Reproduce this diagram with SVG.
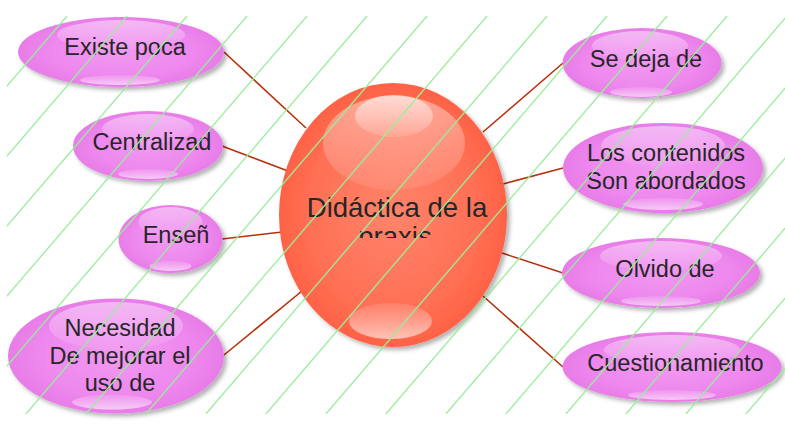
<svg xmlns="http://www.w3.org/2000/svg" width="785" height="424" viewBox="0 0 785 424">
<defs>
<style>
.txt{font-family:"Liberation Sans",Arial,sans-serif;fill:#262626;text-anchor:middle}
.pk{font-size:23.5px}
.ct{font-size:27.5px}
.conn{stroke:#B5310C;stroke-width:1.6;fill:none}
.pink{fill:url(#gPink);filter:url(#sh)}
.red{fill:url(#gRed);filter:url(#sh)}
.hlt{fill:url(#gTop)}
.hlp{fill:url(#gTopP)}
.hlb{fill:url(#gBot)}
.hatch{stroke:#99EE99;stroke-width:1.3;fill:none}
</style>
<radialGradient id="gPink" cx="0.5" cy="0.5" r="0.5">
<stop offset="0" stop-color="#F199F1"/>
<stop offset="0.7" stop-color="#EE88EE"/>
<stop offset="1" stop-color="#E87CE8"/>
</radialGradient>
<radialGradient id="gRed" cx="0.5" cy="0.5" r="0.5">
<stop offset="0" stop-color="#FF846B"/>
<stop offset="0.75" stop-color="#FF6F54"/>
<stop offset="1" stop-color="#FF6245"/>
</radialGradient>
<linearGradient id="gTop" x1="0" y1="0" x2="0" y2="1">
<stop offset="0" stop-color="#FFFFFF" stop-opacity="0.6"/>
<stop offset="1" stop-color="#FFFFFF" stop-opacity="0.12"/>
</linearGradient>
<linearGradient id="gTopP" x1="0" y1="0" x2="0" y2="1">
<stop offset="0" stop-color="#FFFFFF" stop-opacity="0.45"/>
<stop offset="1" stop-color="#FFFFFF" stop-opacity="0.05"/>
</linearGradient>
<linearGradient id="gBot" x1="0" y1="0" x2="0" y2="1">
<stop offset="0" stop-color="#FFFFFF" stop-opacity="0.1"/>
<stop offset="1" stop-color="#FFFFFF" stop-opacity="0.6"/>
</linearGradient>
<filter id="sh" x="-10%" y="-10%" width="125%" height="130%">
<feDropShadow dx="3" dy="3" stdDeviation="2" flood-color="#000" flood-opacity="0.3"/>
</filter>
<clipPath id="hatchClip"><rect x="7" y="16" width="778" height="398"/></clipPath>
<clipPath id="praxisClip"><rect x="280" y="150" width="230" height="88"/></clipPath>
</defs>
<rect width="785" height="424" fill="#FFFFFF"/>

<g id="connectors">
<line class="conn" x1="224" y1="52" x2="306" y2="128"/>
<line class="conn" x1="222" y1="146" x2="288" y2="171"/>
<line class="conn" x1="222" y1="239" x2="282" y2="232"/>
<line class="conn" x1="224" y1="355" x2="302" y2="291"/>
<line class="conn" x1="483" y1="132" x2="563" y2="63"/>
<line class="conn" x1="503" y1="184" x2="563" y2="168"/>
<line class="conn" x1="502" y1="253" x2="563" y2="273"/>
<line class="conn" x1="483" y1="296" x2="563" y2="367"/>
</g>

<g id="center">
<ellipse class="red" cx="393" cy="215" rx="114" ry="132"/>
<ellipse class="hlt" cx="394" cy="143" rx="71" ry="47" opacity="0.7"/>
<ellipse class="hlt" cx="394" cy="116" rx="39" ry="21"/>
<ellipse class="hlb" cx="390.5" cy="321" rx="41.5" ry="18"/>
<text class="txt ct" x="397" y="217">Didáctica de la</text>
<text class="txt ct" x="395" y="246" clip-path="url(#praxisClip)">praxis</text>
</g>

<g id="n1">
<ellipse class="pink" cx="121" cy="52" rx="103" ry="35"/>
<ellipse class="hlp" cx="121" cy="35" rx="64" ry="15"/>
<ellipse class="hlb" cx="120" cy="80" rx="40" ry="5"/>
<text class="txt pk" x="125" y="55">Existe poca</text>
</g>

<g id="n2">
<ellipse class="pink" cx="148" cy="146" rx="75" ry="35"/>
<ellipse class="hlp" cx="148" cy="129" rx="46" ry="15"/>
<ellipse class="hlb" cx="148" cy="174" rx="30" ry="5"/>
<text class="txt pk" x="152" y="150">Centralizad</text>
</g>

<g id="n3">
<ellipse class="pink" cx="170.5" cy="239" rx="52" ry="34"/>
<ellipse class="hlp" cx="170.5" cy="222" rx="32" ry="15"/>
<ellipse class="hlb" cx="170.5" cy="266" rx="21" ry="5"/>
<text class="txt pk" x="176" y="243">Enseñ</text>
</g>

<g id="n4">
<ellipse class="pink" cx="116" cy="356" rx="108" ry="57.5"/>
<ellipse class="hlp" cx="116" cy="326" rx="67" ry="24"/>
<ellipse class="hlb" cx="112" cy="402" rx="40" ry="7.5"/>
<text class="txt pk" x="120" y="336">Necesidad</text>
<text class="txt pk" x="120" y="364">De mejorar el</text>
<text class="txt pk" x="120" y="391">uso de</text>
</g>

<g id="n5">
<ellipse class="pink" cx="642" cy="63" rx="79.5" ry="35"/>
<ellipse class="hlp" cx="640" cy="46" rx="48" ry="15"/>
<ellipse class="hlb" cx="641" cy="92" rx="31" ry="5"/>
<text class="txt pk" x="646" y="67">Se deja de</text>
</g>

<g id="n6">
<ellipse class="pink" cx="663" cy="168" rx="100" ry="45"/>
<ellipse class="hlp" cx="663" cy="146" rx="62" ry="20"/>
<ellipse class="hlb" cx="663" cy="204" rx="40" ry="6"/>
<text class="txt pk" x="666" y="161">Los contenidos</text>
<text class="txt pk" x="666" y="188.5">Son abordados</text>
</g>

<g id="n7">
<ellipse class="pink" cx="661" cy="273" rx="99" ry="35"/>
<ellipse class="hlp" cx="661" cy="256" rx="61" ry="15"/>
<ellipse class="hlb" cx="661" cy="301" rx="40" ry="5"/>
<text class="txt pk" x="665" y="277">Olvido de</text>
</g>

<g id="n8">
<ellipse class="pink" cx="672" cy="367" rx="109.5" ry="35"/>
<ellipse class="hlp" cx="672" cy="350" rx="68" ry="15"/>
<ellipse class="hlb" cx="672" cy="395" rx="44" ry="5"/>
<text class="txt pk" x="675.5" y="371">Cuestionamiento</text>
</g>

<g id="hatching" clip-path="url(#hatchClip)">
<path class="hatch" d="M7,16L-334.1,414M67,16L-274.1,414M127,16L-214.1,414M187,16L-154.1,414M247,16L-94.1,414M307,16L-34.1,414M367,16L25.9,414M427,16L85.9,414M487,16L145.9,414M547,16L205.9,414M607,16L265.9,414M667,16L325.9,414M727,16L385.9,414M787,16L445.9,414M847,16L505.9,414M907,16L565.9,414M967,16L625.9,414M1027,16L685.9,414M1087,16L745.9,414"/>
</g>
</svg>
